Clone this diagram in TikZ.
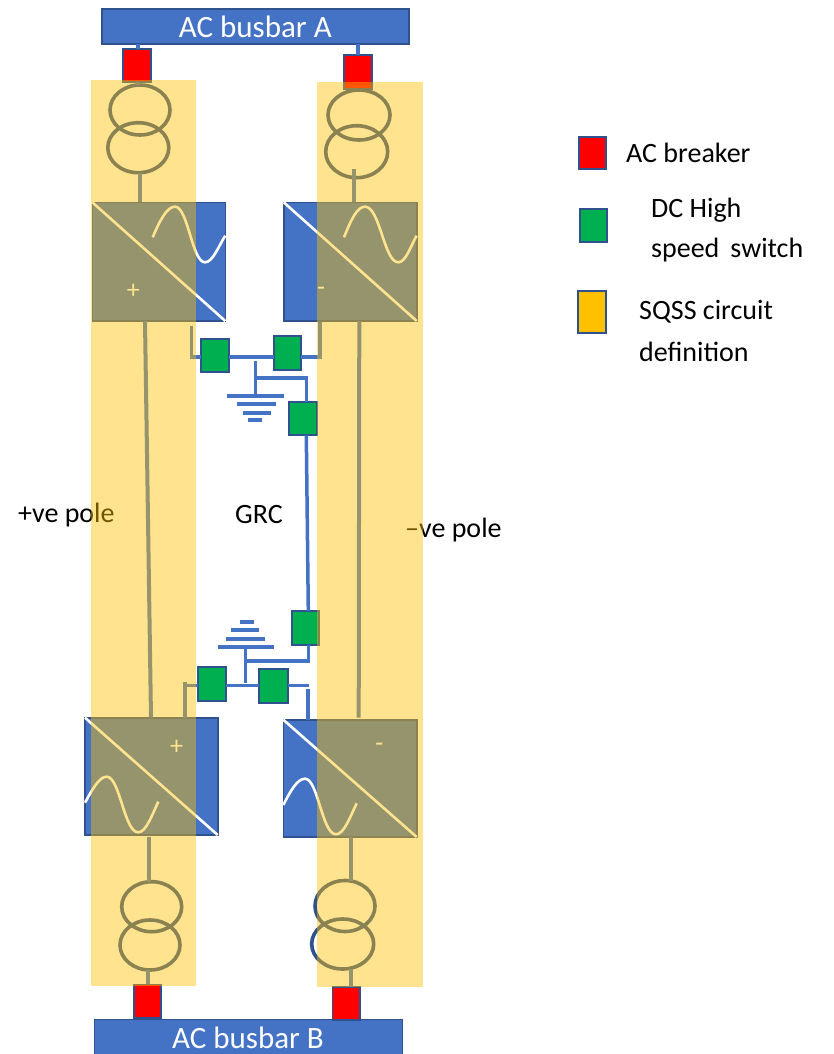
\documentclass[tikz,border=0pt]{standalone}
\usepackage{fontspec}
\setmainfont{Carlito}
\usetikzlibrary{shapes.geometric,calc}
\definecolor{blu}{HTML}{4472C4}
\definecolor{dkb}{HTML}{2F528F}
\definecolor{gold}{HTML}{FFC000}
\definecolor{grn}{HTML}{00B050}
\tikzset{
  basebox/.style={rectangle,inner sep=0pt,outer sep=0pt,draw=dkb,line width=1.6pt},
  busbar/.style={basebox,fill=blu,text=white,font=\fontsize{31}{34}\selectfont},
  breaker/.style={basebox,fill=red},
  dcswitch/.style={basebox,fill=grn,line width=2pt},
  converter/.style={basebox,fill=blu},
  pole/.style={rectangle,inner sep=0pt,outer sep=0pt,fill=gold,fill opacity=0.44},
  wire/.style={draw=blu,line width=3.5pt},
  acwire/.style={draw=blu,line width=4pt},
  coil/.style={ellipse,draw=dkb,line width=3.6pt,inner sep=0pt,outer sep=0pt},
  bar/.style={rectangle,fill=blu,inner sep=0pt,outer sep=0pt},
  glyph/.style={draw=white,line width=2.6pt},
  sign/.style={text=white,inner sep=0pt,font=\fontsize{26}{28}\selectfont},
  lab/.style={text=black,inner sep=0pt,anchor=west,font=\fontsize{28}{30}\selectfont},
}
\newcommand{\bx}[7]{\node[#1,minimum width={(#5-#3)*1pt},minimum height={(#6-#4)*1pt}] (#2) at ({(#3+#5)/2},{(#4+#6)/2}) {#7};}
\newcommand{\coilnode}[6]{\node[coil,minimum width=#5pt,minimum height=#6pt] (#1) at (#2,#3) {};}
\begin{document}
\begin{tikzpicture}[x=1pt,y=-1pt]
\clip (0,0) rectangle (833,1054);
\fill[white] (0,0) rectangle (833,1054);
% labels beneath the overlay
\node[lab] (lplus) at (18,515) {+ve pole};
\node[lab] (lminus) at (405,530) {--ve pole};
\node[lab] (lgrc) at (235,515) {GRC};
% converters
\bx{converter}{cA}{92.3}{202.3}{225.3}{321}{}
\bx{converter}{cB}{283.7}{202.3}{416.7}{321}{}
\bx{converter}{cC}{85}{717.7}{217.7}{835}{}
\bx{converter}{cD}{283.3}{719.7}{416.7}{837}{}
\draw[glyph] (cA.north west) -- (cA.south east);
\draw[glyph] (cB.north west) -- (cB.south east);
\draw[glyph] (cC.north west) -- (cC.south east);
\draw[glyph] (cD.north west) -- (cD.south east);
\draw[glyph] (152.7,237.3) .. controls (160,220) and (167,206.7) .. (175,206.7) .. controls (188,206.7) and (192,262.3) .. (205,262.3) .. controls (213,262.3) and (219,245) .. (225.3,235.7);
\draw[glyph] (344,237.3) .. controls (351,220) and (357,206.7) .. (365,206.7) .. controls (380,206.7) and (384,262.3) .. (398.3,262.3) .. controls (406,262.3) and (411,245) .. (416.7,235.7);
\draw[glyph] (85,802.7) .. controls (92,790) and (99,776.7) .. (106.7,776.7) .. controls (120,776.7) and (124,832.3) .. (138.3,832.3) .. controls (146,832.3) and (152,815) .. (158.3,801.7);
\draw[glyph] (283.3,805) .. controls (290,792) and (297,778.7) .. (305,778.7) .. controls (318,778.7) and (322,834.3) .. (336,834.3) .. controls (344,834.3) and (350,817) .. (356.7,803.3);
\node[sign] (sA) at (133.3,291) {+};
\node[sign] (sB) at (321,291.5) {-};
\node[sign] (sC) at (176.7,747) {+};
\node[sign] (sD) at (379.3,747) {-};
% busbars and AC breakers
\bx{busbar}{busA}{101.7}{9}{409}{44}{AC busbar A}
\bx{busbar}{busB}{94.3}{1019.5}{402.3}{1070}{}
\node[text=white,inner sep=0pt,font=\fontsize{31}{34}\selectfont] (busBtxt) at (248,1038) {AC busbar B};
\bx{breaker}{brA}{122.7}{49}{150.7}{82}{}
\bx{breaker}{brB}{344}{55}{372}{89}{}
\bx{breaker}{brC}{134}{984.3}{161}{1018}{}
\bx{breaker}{brD}{332.3}{986.7}{359.7}{1020}{}
\draw[acwire] (brA.north -| 138,0) -- (busA.south -| 138,0);
\draw[acwire] (brB.north) -- (busA.south -| brB.north);
% transformers
\coilnode{tA1}{140}{110}{x}{60}{50}
\coilnode{tA2}{138.3}{147.7}{x}{61}{50}
\coilnode{tB1}{359}{115}{x}{62}{50}
\coilnode{tB2}{356.7}{151.7}{x}{62}{52}
\coilnode{tC1}{151.7}{906.7}{x}{60}{50}
\coilnode{tC2}{150}{945}{x}{60}{50}
\coilnode{tD1}{345}{906}{x}{60}{51}
\coilnode{tD2}{342.7}{944}{x}{62}{50}
\coordinate (stA) at (140,202);
\coordinate (stB) at (353.5,169);
\coordinate (stC) at (149,836.7);
\coordinate (stD) at (350.7,837);
\draw[acwire] (brA.south -| 138,0) -- (tA1.north -| 138,0);
\draw[acwire] (tA2.south -| stA) -- (stA);
\draw[acwire] (stB) -- (stB |- cB.north);
\draw[acwire] (stC) -- (stC |- tC1.north);
\draw[acwire] (stD) -- (stD |- tD1.north);
\draw[acwire] (tC2.south -| 147.7,0) -- (brC.north -| 147.7,0);
\draw[acwire] (tD2.south -| 350.7,0) -- (brD.north -| 350.7,0);
% pole lines
\coordinate (pA) at (145,321);
\coordinate (pC) at (151,717.7);
\coordinate (pB) at (359.3,321);
\coordinate (pD) at (358.7,717.7);
\draw[acwire] (pA) -- (pC);
\draw[acwire] (pB) -- (pD);
% DC switches
\bx{dcswitch}{sw1}{201.3}{338.7}{229}{372.3}{}
\bx{dcswitch}{sw2}{274}{335.7}{301.3}{370}{}
\bx{dcswitch}{sw3}{289}{401.7}{316.7}{435.3}{}
\bx{dcswitch}{sw4}{291.7}{611}{319}{644.7}{}
\bx{dcswitch}{sw5}{198}{667.3}{226}{701.3}{}
\bx{dcswitch}{sw6}{259.3}{669}{287.7}{703.3}{}
% earth bars
\bx{bar}{g1}{227.3}{394}{284.3}{398}{}
\bx{bar}{g2}{236.7}{402.3}{276}{406.3}{}
\bx{bar}{g3}{242.7}{411.3}{271}{415.3}{}
\bx{bar}{g4}{247.7}{418.3}{261.7}{422.3}{}
\bx{bar}{h1}{217.7}{645.3}{274.3}{649.3}{}
\bx{bar}{h2}{225.7}{637.3}{265}{641.3}{}
\bx{bar}{h3}{230.7}{628.3}{259.3}{632.3}{}
\bx{bar}{h4}{239.7}{620.3}{253.7}{624.3}{}
% DC wiring, upper
\coordinate (u1) at (191.3,326);
\coordinate (u2) at (320,322);
\coordinate (u3) at (255.7,361);
\coordinate (u4) at (255.7,378);
\coordinate (u5) at (306.3,378);
\draw[wire] (sw1.west |- 0,357) -| (u1);
\draw[wire] (sw1.east |- 0,357) -- (sw2.west |- 0,357);
\draw[wire] (sw2.east |- 0,357) -| (u2);
\draw[wire] (u3) -- (u3 |- g1.north);
\draw[wire] (u4) -- (u5) -- (u5 |- sw3.north);
% DC wiring, lower
\coordinate (d1) at (185,682);
\coordinate (d2) at (185,717.7);
\coordinate (d3) at (245.7,682.7);
\coordinate (d4) at (245.7,661);
\coordinate (d5) at (308.3,661);
\coordinate (d6) at (308,689);
\draw[wire] (d2) -- (d1) -- (185,685.7) -- (sw5.west |- 0,685.7);
\draw[wire] (sw5.east |- 0,685.7) -- (sw6.west |- 0,685.7);
\draw[wire] (sw6.east |- 0,685.7) -- (309,685.7);
\draw[wire] (d3) -- (d3 |- h1.south);
\draw[wire] (d4) -- (d5) -- (d5 |- sw4.south);
\draw[wire] (d6) -- (d6 |- cD.north);
\draw[wire] (u5 |- sw3.south) -- (d5 |- sw4.north);
% SQSS overlay
\bx{pole}{poleL}{91}{80.5}{196.3}{986}{}
\bx{pole}{poleR}{317.3}{82.5}{423}{987}{}
% legend
\bx{breaker}{k1}{579}{137}{606}{169}{}
\bx{dcswitch}{k2}{579.5}{209}{607}{242}{}
\node[basebox,fill=gold,minimum width=28pt,minimum height=42pt] (k3) at (592,312) {};
\node[lab] (t1) at (626,153) {AC breaker};
\node[lab] (t2) at (651,210) {DC High};
\node[lab] (t3) at (651,250) {speed\, switch};
\node[lab] (t4) at (639,312) {SQSS circuit};
\node[lab] (t5) at (639,352) {definition};
\end{tikzpicture}
\end{document}
